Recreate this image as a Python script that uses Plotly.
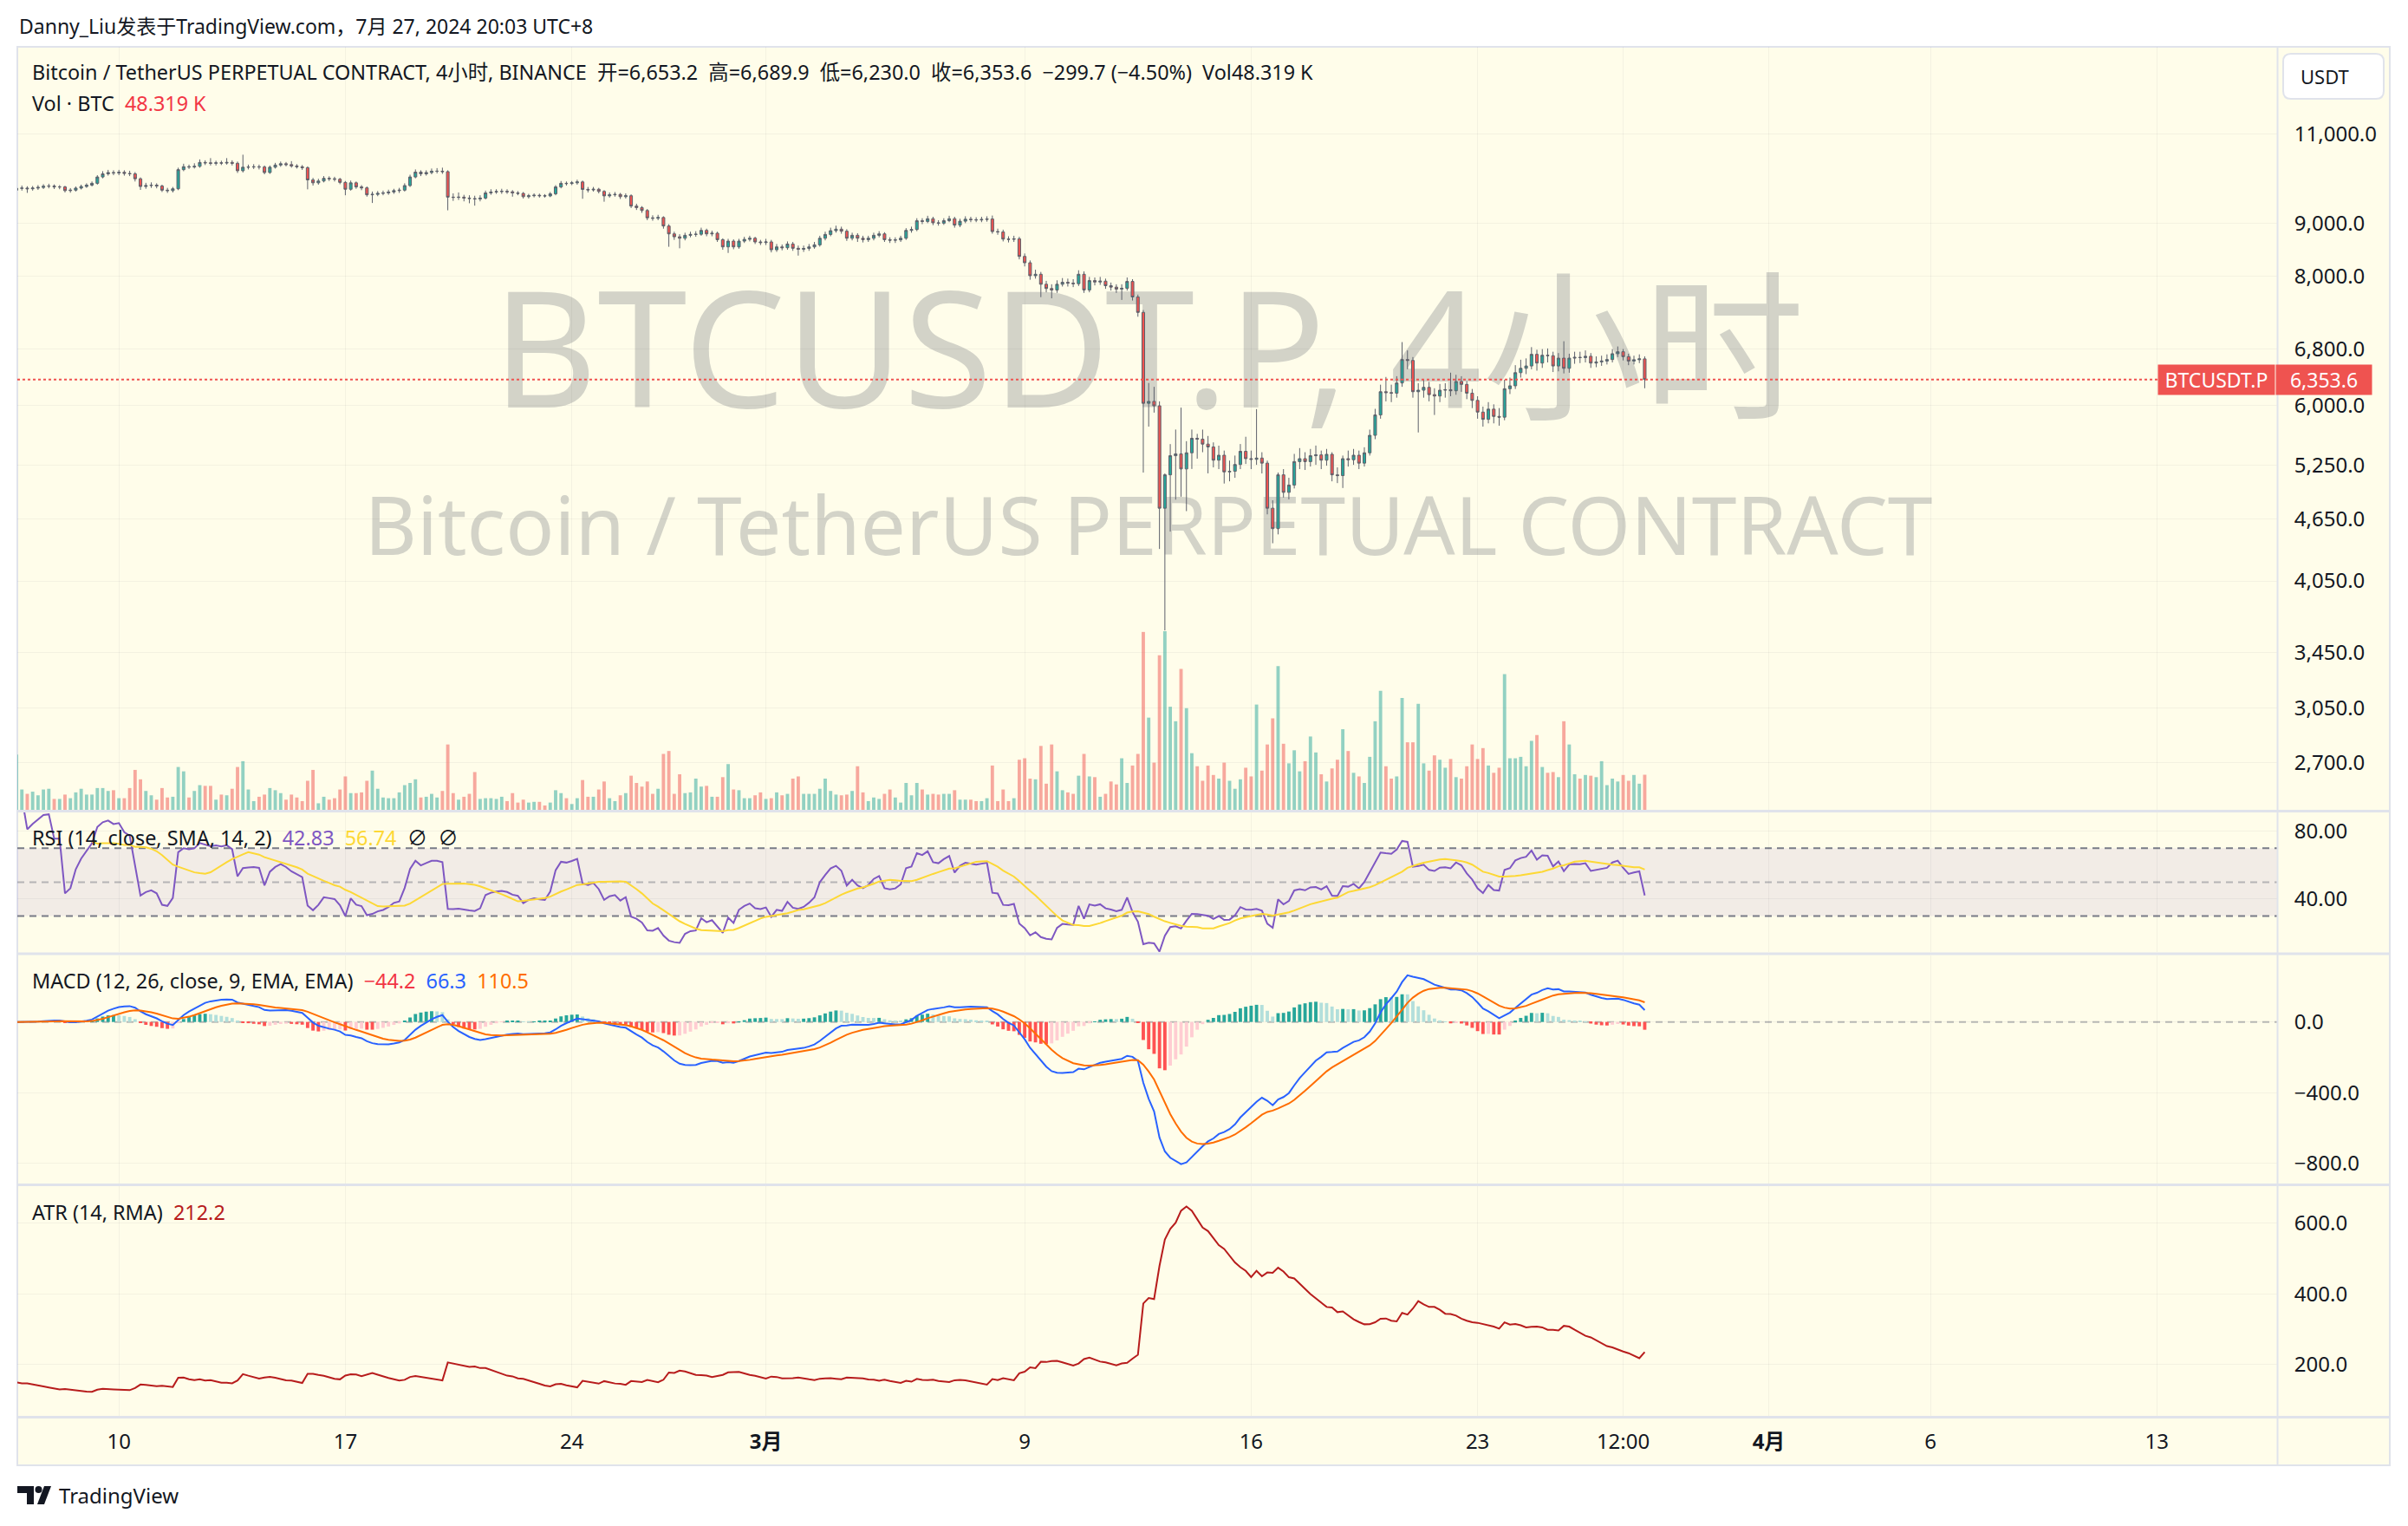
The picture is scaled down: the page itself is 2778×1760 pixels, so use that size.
import numpy as np
import pandas as pd
import plotly.graph_objects as go

# ---------------------------------------------------------------- data
start_time = "2020-02-06 20:00"          # first 4h candle (UTC+8)
first_open = 9700.0

closes = [
    9740,
    9745, 9730, 9745, 9760, 9785, 9790,          # Feb 7
    9770, 9770, 9690, 9700, 9745, 9780,          # Feb 8
    9810, 9850, 9990, 10060, 10090, 10080,       # Feb 9
    10095, 10070, 10060, 9950, 9780, 9800,       # Feb 10
    9810, 9790, 9700, 9690, 9730, 10155,         # Feb 11
    10223, 10215, 10230, 10320, 10310, 10300,    # Feb 12
    10310, 10305, 10320, 10300, 10130, 10210,    # Feb 13
    10215, 10220, 10215, 10090, 10210, 10260,    # Feb 14
    10290, 10270, 10240, 10220, 10200, 9925,     # Feb 15
    9860, 9900, 9960, 9950, 9940, 9870,          # Feb 16
    9720, 9860, 9770, 9750, 9600, 9610,          # Feb 17
    9630, 9640, 9660, 9690, 9700, 9800,          # Feb 18
    9990, 10100, 10060, 10090, 10120, 10120,     # Feb 19
    10110, 9550, 9545, 9550, 9530, 9520,         # Feb 20
    9510, 9530, 9640, 9660, 9670, 9675,          # Feb 21
    9665, 9640, 9630, 9560, 9580, 9590,          # Feb 22
    9580, 9575, 9620, 9770, 9850, 9845,          # Feb 23
    9860, 9880, 9717, 9705, 9720, 9673,          # Feb 24
    9577, 9600, 9608, 9560, 9580, 9361,          # Feb 25
    9330, 9269, 9118, 9110, 9125, 8953,          # Feb 26
    8797, 8740, 8712, 8769, 8786, 8790,          # Feb 27
    8866, 8797, 8810, 8684, 8545, 8656,          # Feb 28
    8545, 8656, 8690, 8712, 8640, 8628,          # Feb 29
    8640, 8490, 8545, 8529, 8600, 8518,          # Mar 1
    8500, 8515, 8545, 8584, 8712, 8786,          # Mar 2
    8860, 8890, 8850, 8712, 8769, 8712,          # Mar 3
    8684, 8712, 8769, 8797, 8684, 8673,          # Mar 4
    8680, 8712, 8866, 8884, 9059, 9045,          # Mar 5
    9100, 9018, 9010, 9060, 9100, 8971,          # Mar 6
    9050, 9090, 9080, 9075, 9085, 9095,          # Mar 7
    8843, 8835, 8695, 8690, 8700, 8365,          # Mar 8
    8247, 8012, 8038, 7860, 7786, 7760,          # Mar 9
    7860, 7895, 7880, 7870, 8038, 7761,          # Mar 10
    7925, 7900, 7915, 7835, 7810, 7776,          # Mar 11
    7790, 7910, 7640, 7381, 6024, 6050,          # Mar 12
    5990, 4765, 5134, 5358, 5380, 5202,          # Mar 13
    5393, 5571, 5560, 5499, 5464, 5305,          # Mar 14
    5364, 5168, 5175, 5254, 5411, 5323,          # Mar 15
    5315, 5330, 5270, 4765, 4552, 5134,          # Mar 16
    4937, 5018, 5288, 5323, 5288, 5358,          # Mar 17
    5368, 5305, 5375, 5134, 5125, 5323,          # Mar 18
    5310, 5364, 5270, 5393, 5608, 5869,          # Mar 19
    6182, 6170, 6162, 6304, 6643, 6630,          # Mar 20
    6182, 6203, 6243, 6142, 6123, 6203,          # Mar 21
    6210, 6195, 6325, 6284, 6162, 6063,          # Mar 22
    5907, 5812, 5946, 5850, 5840, 6223,          # Mar 23
    6264, 6451, 6514, 6548, 6721, 6591,          # Mar 24
    6707, 6700, 6548, 6664, 6514, 6664,          # Mar 25
    6675, 6672, 6692, 6591, 6608, 6621,          # Mar 26
    6643, 6730, 6760, 6686, 6621, 6640,          # Mar 27
    6653.2, 6353.6,                              # Mar 28
]

highs = [
    9800,
    9800, 9785, 9790, 9810, 9830, 9840,
    9825, 9810, 9795, 9745, 9780, 9820,
    9850, 9890, 10030, 10120, 10150, 10140,
    10150, 10140, 10130, 10100, 9980, 9860,
    9870, 9850, 9820, 9750, 9770, 10200,
    10290, 10270, 10300, 10390, 10370, 10420,
    10360, 10360, 10420, 10370, 10340, 10500,
    10270, 10280, 10270, 10250, 10250, 10310,
    10340, 10330, 10350, 10280, 10260, 10230,
    9970, 9950, 10010, 10005, 9995, 9970,
    9900, 9910, 9890, 9810, 9780, 9670,
    9680, 9690, 9710, 9730, 9750, 9850,
    10040, 10160, 10140, 10140, 10180, 10190,
    10200, 10140, 9630, 9650, 9600, 9590,
    9580, 9590, 9690, 9720, 9720, 9730,
    9720, 9700, 9680, 9660, 9620, 9630,
    9625, 9615, 9660, 9810, 9900, 9890,
    9900, 9930, 9910, 9770, 9770, 9750,
    9700, 9650, 9660, 9640, 9630, 9610,
    9410, 9360, 9300, 9170, 9180, 9150,
    8990, 8840, 8790, 8820, 8840, 8850,
    8920, 8900, 8860, 8840, 8710, 8700,
    8690, 8700, 8740, 8760, 8740, 8680,
    8700, 8680, 8600, 8590, 8650, 8640,
    8570, 8570, 8600, 8640, 8760, 8840,
    8920, 8960, 8940, 8890, 8820, 8810,
    8760, 8760, 8820, 8850, 8830, 8730,
    8730, 8760, 8910, 8940, 9110, 9110,
    9160, 9140, 9070, 9110, 9160, 9140,
    9100, 9150, 9140, 9130, 9140, 9150,
    9165, 8900, 8880, 8750, 8760, 8740,
    8420, 8290, 8120, 8080, 7920, 7860,
    7930, 7970, 7960, 7950, 8110, 8090,
    7990, 7980, 7990, 7960, 7890, 7860,
    7860, 7980, 7950, 7680, 7420, 6304,
    6250, 6050, 5150, 5499, 5681, 5966,
    5535, 5681, 5626, 5680, 5600, 5520,
    5480, 5420, 5300, 5360, 5500, 5590,
    5420, 5946, 5400, 5300, 4850, 5160,
    5200, 5100, 5380, 5450, 5400, 5440,
    5481, 5420, 5440, 5400, 5220, 5360,
    5420, 5440, 5420, 5460, 5680, 5950,
    6280, 6389, 6280, 6400, 6907, 6780,
    6680, 6300, 6350, 6320, 6230, 6290,
    6300, 6451, 6420, 6400, 6330, 6220,
    6120, 5980, 6040, 6010, 5960, 6350,
    6380, 6560, 6640, 6660, 6830, 6790,
    6800, 6810, 6760, 6740, 6920, 6730,
    6760, 6760, 6780, 6740, 6690, 6700,
    6720, 6800, 6840, 6800, 6730, 6700,
    6720, 6689.9,
]

lows = [
    9650,
    9690, 9641, 9690, 9705, 9725, 9740,
    9725, 9720, 9650, 9645, 9670, 9715,
    9750, 9780, 9820, 9960, 10020, 10030,
    10030, 10020, 10010, 9890, 9706, 9730,
    9750, 9740, 9660, 9640, 9650, 9700,
    10120, 10170, 10180, 10200, 10260, 10250,
    10250, 10260, 10270, 10250, 10080, 10090,
    10160, 10170, 10160, 10050, 10060, 10180,
    10220, 10230, 10200, 10180, 10150, 9718,
    9800, 9820, 9870, 9900, 9890, 9830,
    9590, 9690, 9730, 9700, 9560, 9426,
    9570, 9590, 9600, 9620, 9640, 9670,
    9770, 9960, 10010, 10020, 10050, 10070,
    10060, 9273, 9470, 9490, 9460, 9420,
    9370, 9460, 9500, 9600, 9620, 9620,
    9620, 9560, 9590, 9520, 9520, 9545,
    9540, 9540, 9550, 9590, 9740, 9800,
    9810, 9820, 9515, 9650, 9670, 9630,
    9453, 9540, 9560, 9510, 9520, 9320,
    9280, 9220, 9070, 9060, 9070, 8900,
    8547, 8680, 8518, 8670, 8730, 8740,
    8760, 8750, 8750, 8640, 8490, 8430,
    8500, 8510, 8620, 8650, 8600, 8580,
    8580, 8440, 8450, 8480, 8490, 8470,
    8380, 8450, 8470, 8510, 8550, 8670,
    8750, 8820, 8800, 8660, 8670, 8640,
    8630, 8640, 8670, 8730, 8640, 8620,
    8620, 8640, 8680, 8820, 8850, 8990,
    9010, 8970, 8960, 8975, 9030, 8920,
    8930, 9010, 9030, 9030, 9030, 9040,
    8800, 8780, 8650, 8630, 8640, 8310,
    8180, 7940, 7960, 7637, 7720, 7617,
    7710, 7820, 7820, 7810, 7830, 7710,
    7720, 7840, 7850, 7780, 7750, 7710,
    7590, 7750, 7580, 7310, 5160, 5718,
    5900, 4350, 3626, 4522, 4857, 4889,
    4734, 5202, 5323, 5400, 5151, 5220,
    5200, 5035, 5060, 5100, 5200, 5260,
    5200, 5250, 5150, 4700, 4406, 4494,
    4880, 4860, 4980, 5200, 5190, 5230,
    5250, 5200, 5240, 5060, 5040, 4985,
    5230, 5250, 5200, 5230, 5360, 5560,
    5820, 6050, 6040, 6100, 6250, 6500,
    6100, 5644, 6100, 6050, 5869, 6040,
    6100, 6120, 6140, 6180, 6080, 5960,
    5820, 5718, 5760, 5760, 5730, 5800,
    6150, 6220, 6380, 6430, 6500, 6480,
    6520, 6600, 6460, 6470, 6440, 6450,
    6580, 6590, 6600, 6520, 6530, 6550,
    6570, 6600, 6680, 6630, 6560, 6570,
    6590, 6230,
]

volumes_k = [
    76,
    28, 22, 25, 20, 28, 29, 15, 15, 21, 16,
    24, 29, 21, 21, 30, 30, 26, 27, 16, 16,
    30, 55, 42, 26, 20, 14, 30, 17, 18, 59,
    53, 17, 26, 34, 33, 33, 14, 21, 20, 29,
    59, 67, 28, 12, 18, 21, 30, 27, 23, 14,
    21, 17, 12, 40, 55, 9, 18, 14, 16, 28,
    46, 23, 23, 24, 40, 54, 29, 17, 16, 16,
    24, 34, 37, 42, 17, 18, 22, 17, 26, 90,
    23, 14, 18, 22, 52, 15, 16, 16, 15, 18,
    12, 23, 10, 14, 10, 11, 11, 6, 10, 27,
    23, 16, 8, 16, 41, 18, 18, 28, 39, 16,
    12, 20, 23, 47, 37, 32, 39, 22, 29, 77,
    81, 22, 49, 23, 24, 43, 32, 33, 18, 18,
    45, 63, 28, 27, 16, 16, 20, 24, 15, 16,
    24, 20, 22, 43, 46, 22, 22, 22, 29, 43,
    26, 21, 20, 21, 26, 60, 24,
    12, 17, 15, 22, 28, 17, 10, 37, 20, 37,
    28, 21, 22, 21, 22, 22, 27, 14, 14, 14,
    12, 12, 16, 61, 12, 28, 12, 16, 69, 71,
    43, 42, 88, 36, 90, 53, 27, 24, 22, 47,
    77, 46, 45, 18, 22, 39, 35, 71, 37, 61,
    77, 245, 127, 65, 213, 246, 142, 122, 194, 140,
    78, 60, 40, 61, 48, 43, 65, 40, 29, 42,
    58, 46, 145, 54, 90, 126, 198, 91, 64, 82,
    53, 67, 101, 79, 49, 39, 57, 69, 111, 81,
    51, 46, 37, 73, 122, 164, 60, 43, 46, 154,
    93, 93, 146, 64, 54, 75, 69, 58, 70, 45,
    43, 60, 90, 70, 85, 61, 51, 58, 187, 71,
    71, 73, 60, 95, 103, 59, 51, 52, 45, 122,
    90, 49, 43, 48, 47, 45, 67, 34, 43, 39,
    48, 40, 48, 36, 48.319,
]

price_ticks = [11000, 9000, 8000, 6800, 6000, 5250, 4650, 4050, 3450, 3050, 2700]
rsi_ticks = [80, 40]
macd_ticks = [0, -400, -800]
atr_ticks = [600, 400, 200]
rsi_levels = [70, 50, 30]
time_ticks = ["2020-02-10", "2020-02-17", "2020-02-24", "2020-03-01", "2020-03-09",
              "2020-03-16", "2020-03-23", "2020-03-27 12:00", "2020-04-01",
              "2020-04-06", "2020-04-13"]
time_labels = ["10", "17", "24", "<b>3月</b>", "9", "16", "23", "12:00", "<b>4月</b>", "6", "13"]

assert len(closes) == len(highs) == len(lows) == len(volumes_k) == 303

# ---------------------------------------------------------------- derived series
c = pd.Series(closes, dtype=float)
o = pd.Series([first_open] + closes[:-1], dtype=float)
h = pd.Series(highs, dtype=float)
l = pd.Series(lows, dtype=float)
t = pd.date_range(start_time, periods=len(c), freq="4h")
is_up = (c >= o).values

d = c.diff()
avg_gain = d.clip(lower=0).ewm(alpha=1 / 14, adjust=False).mean()
avg_loss = (-d).clip(lower=0).ewm(alpha=1 / 14, adjust=False).mean()
rsi = 100 - 100 / (1 + avg_gain / avg_loss)
rsi_ma = rsi.rolling(14).mean()

macd = c.ewm(span=12, adjust=False).mean() - c.ewm(span=26, adjust=False).mean()
signal = macd.ewm(span=9, adjust=False).mean()
hist = macd - signal
prev_hist = hist.shift(1)
hist_colors = []
for hv, pv in zip(hist, prev_hist):
    rising = (not np.isnan(pv)) and hv > pv
    if hv >= 0:
        hist_colors.append("#26a69a" if rising else "#b2dfdb")
    else:
        hist_colors.append("#ffcdd2" if rising else "#ff5252")

prev_c = c.shift(1)
tr = pd.concat([h - l, (h - prev_c).abs(), (l - prev_c).abs()], axis=1).max(axis=1)
atr = tr.ewm(alpha=1 / 14, adjust=False).mean()

# ---------------------------------------------------------------- geometry / style
W, H = 2778, 1760
L_PX, R_PX, T_PX, B_PX = 20, 2627, 54, 1634
PW, PH = R_PX - L_PX, B_PX - T_PX


def fx(px):
    return (px - L_PX) / PW


def fy(py):
    return (B_PX - py) / PH


def dom(top_px, bot_px):
    return [max(0.0, fy(bot_px)), min(1.0, fy(top_px))]


PRICE_DOM = dom(54, 934)
RSI_DOM = dom(937, 1098)
MACD_DOM = dom(1102, 1365)
ATR_DOM = dom(1368, 1634)

PRICE_RANGE = [3.3853, 4.1259]
VOL_RANGE = [0, 1051]
RSI_RANGE = [8.7, 91.2]
MACD_RANGE = [-914, 376]
ATR_RANGE = [52.6, 705]

t0 = pd.Timestamp(start_time)
PX_PER_DAY = 37.32
T0_PX = 19.0


def px_to_time(px):
    return t0 + pd.Timedelta(days=(px - T0_PX) / PX_PER_DAY)


x_left, x_right = px_to_time(L_PX), px_to_time(R_PX)


def price_to_fy(p):
    frac = (np.log10(p) - PRICE_RANGE[0]) / (PRICE_RANGE[1] - PRICE_RANGE[0])
    return PRICE_DOM[0] + frac * (PRICE_DOM[1] - PRICE_DOM[0])


FONT = "Noto Sans, Noto Sans CJK SC, sans-serif"
TXT = "#131722"
BG = "#fffdea"
GRID = "rgba(42,46,57,0.05)"
BORDER = "#e0e3eb"
WM = "#d3d3c8"
UP, DOWN = "#26a69a", "#ef5350"
NB = "\u00a0"
BAR_W = 4 * 3600 * 1000 * 0.62
LEG = 23.4

# ---------------------------------------------------------------- traces
fig = go.Figure()
vol_colors = ["rgba(38,166,154,0.5)" if u else "rgba(239,83,80,0.5)" for u in is_up]
fig.add_trace(go.Bar(x=t, y=volumes_k, marker=dict(color=vol_colors, line=dict(width=0)),
                     width=BAR_W, xaxis="x", yaxis="y", hoverinfo="skip"))
fig.add_trace(go.Candlestick(
    x=t, open=o, high=h, low=l, close=c, xaxis="x", yaxis="y5",
    increasing=dict(fillcolor=UP, line=dict(color="#5d606b", width=1)),
    decreasing=dict(fillcolor=DOWN, line=dict(color="#5d606b", width=1)),
    hoverinfo="skip"))
last_close = closes[-1]
fig.add_trace(go.Scatter(x=[x_left, px_to_time(2490)], y=[last_close, last_close],
                         mode="lines", line=dict(color=DOWN, width=2, dash="dot"),
                         xaxis="x", yaxis="y5", hoverinfo="skip"))

fig.add_trace(go.Scatter(x=t, y=rsi, mode="lines", line=dict(color="#7e57c2", width=2),
                         xaxis="x", yaxis="y2", hoverinfo="skip"))
fig.add_trace(go.Scatter(x=t, y=rsi_ma, mode="lines", line=dict(color="#fdd835", width=2),
                         xaxis="x", yaxis="y2", hoverinfo="skip"))

fig.add_trace(go.Bar(x=t, y=hist, marker=dict(color=hist_colors, line=dict(width=0)),
                     width=BAR_W, xaxis="x", yaxis="y3", hoverinfo="skip"))
fig.add_trace(go.Scatter(x=t, y=macd, mode="lines", line=dict(color="#2962ff", width=2),
                         xaxis="x", yaxis="y3", hoverinfo="skip"))
fig.add_trace(go.Scatter(x=t, y=signal, mode="lines", line=dict(color="#ff6d00", width=2),
                         xaxis="x", yaxis="y3", hoverinfo="skip"))

fig.add_trace(go.Scatter(x=t, y=atr, mode="lines", line=dict(color="#b71c1c", width=2),
                         xaxis="x", yaxis="y4", hoverinfo="skip"))

# ---------------------------------------------------------------- axes
tickfont = dict(family=FONT, size=24, color=TXT)
yax_common = dict(side="right", anchor="x", showline=False, zeroline=False,
                  ticks="outside", ticklen=14, tickcolor="rgba(0,0,0,0)",
                  tickfont=tickfont, showgrid=True, gridcolor=GRID, gridwidth=1,
                  fixedrange=True, tickmode="array")

fig.update_layout(
    xaxis=dict(type="date", range=[x_left, x_right], anchor="y4",
               tickmode="array", tickvals=time_ticks, ticktext=time_labels,
               showgrid=True, gridcolor=GRID, gridwidth=1,
               ticks="outside", ticklen=7, tickcolor="rgba(0,0,0,0)",
               tickfont=tickfont, showline=False, zeroline=False,
               rangeslider=dict(visible=False), fixedrange=True),
    yaxis=dict(domain=PRICE_DOM, range=VOL_RANGE, visible=False, fixedrange=True,
               showgrid=False, zeroline=False),
    yaxis5=dict(overlaying="y", type="log", range=PRICE_RANGE,
                tickvals=price_ticks, ticktext=[f"{v:,.1f}" for v in price_ticks],
                **yax_common),
    yaxis2=dict(domain=RSI_DOM, range=RSI_RANGE, tickvals=rsi_ticks,
                ticktext=[f"{v:.2f}" for v in rsi_ticks], **yax_common),
    yaxis3=dict(domain=MACD_DOM, range=MACD_RANGE, tickvals=macd_ticks,
                ticktext=[f"{v:.1f}".replace("-", "\u2212") for v in macd_ticks], **yax_common),
    yaxis4=dict(domain=ATR_DOM, range=ATR_RANGE, tickvals=atr_ticks,
                ticktext=[f"{v:.1f}" for v in atr_ticks], **yax_common),
)

# ---------------------------------------------------------------- shapes
shapes = []
shapes.append(dict(type="rect", xref="paper", yref="paper", x0=fx(20), x1=fx(2757),
                   y0=fy(1690), y1=fy(54), fillcolor=BG,
                   line=dict(color=BORDER, width=2), layer="below"))
# watermark
shapes.append(dict(type="rect", xref="paper", yref="paper", x0=fx(300), x1=fx(2350),
                   y0=fy(520), y1=fy(300), fillcolor="rgba(0,0,0,0)", line=dict(width=0),
                   layer="below",
                   label=dict(text="BTCUSDT.P, 4小时", textposition="middle center",
                              font=dict(family=FONT, size=186, color=WM))))
shapes.append(dict(type="rect", xref="paper", yref="paper", x0=fx(300), x1=fx(2350),
                   y0=fy(680), y1=fy(540), fillcolor="rgba(0,0,0,0)", line=dict(width=0),
                   layer="below",
                   label=dict(text="Bitcoin / TetherUS PERPETUAL CONTRACT",
                              textposition="middle center",
                              font=dict(family=FONT, size=93, color=WM))))
# RSI band and levels
shapes.append(dict(type="rect", xref="paper", yref="y2", x0=0, x1=1,
                   y0=rsi_levels[2], y1=rsi_levels[0],
                   fillcolor="rgba(126,87,194,0.1)", line=dict(width=0), layer="below"))
for lv in rsi_levels:
    col = "rgba(120,123,134,0.5)" if lv == 50 else "#787b86"
    shapes.append(dict(type="line", xref="paper", yref="y2", x0=0, x1=1, y0=lv, y1=lv,
                       line=dict(color=col, width=2, dash="8px,6px"), layer="below"))
# MACD zero line
shapes.append(dict(type="line", xref="paper", yref="y3", x0=0, x1=1, y0=0, y1=0,
                   line=dict(color="rgba(120,123,134,0.5)", width=2, dash="8px,6px"),
                   layer="below"))
# pane separators
for sy in [935.5, 1100, 1366.5, 1634.5]:
    shapes.append(dict(type="line", xref="paper", yref="paper", x0=fx(20), x1=fx(2757),
                       y0=fy(sy), y1=fy(sy), line=dict(color=BORDER, width=3)))
shapes.append(dict(type="line", xref="paper", yref="paper", x0=fx(2627.5), x1=fx(2627.5),
                   y0=fy(54), y1=fy(1690), line=dict(color=BORDER, width=2)))


def rounded_rect(x0, y0, x1, y1, r):
    pts = [("M", x0 + r, y0), ("L", x1 - r, y0), ("Q", x1, y0, x1, y0 + r),
           ("L", x1, y1 - r), ("Q", x1, y1, x1 - r, y1), ("L", x0 + r, y1),
           ("Q", x0, y1, x0, y1 - r), ("L", x0, y0 + r), ("Q", x0, y0, x0 + r, y0)]
    s = ""
    for p in pts:
        if p[0] == "Q":
            s += f"Q{fx(p[1]):.6f},{fy(p[2]):.6f} {fx(p[3]):.6f},{fy(p[4]):.6f} "
        else:
            s += f"{p[0]}{fx(p[1]):.6f},{fy(p[2]):.6f} "
    return s + "Z"


shapes.append(dict(type="path", xref="paper", yref="paper",
                   path=rounded_rect(2634, 62, 2750, 114, 9),
                   fillcolor="white", line=dict(color=BORDER, width=2)))


def poly(points):
    s = "M" + " L".join(f"{fx(px):.6f},{fy(py):.6f}" for px, py in points)
    return s + " Z"


# TradingView logo
shapes.append(dict(type="path", xref="paper", yref="paper",
                   path=poly([(20, 1714), (39, 1714), (39, 1735), (31, 1735), (31, 1722), (20, 1722)]),
                   fillcolor=TXT, line=dict(width=0)))
shapes.append(dict(type="circle", xref="paper", yref="paper", x0=fx(40.5), x1=fx(48.5),
                   y0=fy(1722), y1=fy(1714), fillcolor=TXT, line=dict(width=0)))
shapes.append(dict(type="path", xref="paper", yref="paper",
                   path=poly([(51, 1714), (59, 1714), (51, 1735), (43, 1735)]),
                   fillcolor=TXT, line=dict(width=0)))

# ---------------------------------------------------------------- annotations
anns = []


def text(px, py, s, size=LEG, color=TXT, xanchor="left", **kw):
    anns.append(dict(x=fx(px), y=fy(py), xref="paper", yref="paper", text=s,
                     showarrow=False, xanchor=xanchor, yanchor="middle",
                     font=dict(family=FONT, size=size, color=color), **kw))


def span(s, col):
    return f'<span style="color:{col}">{s}</span>'


text(20, 30, "Danny_Liu发表于TradingView.com，7月 27, 2024 20:03 UTC+8", size=23)
sep = NB * 2
legend1 = ("Bitcoin / TetherUS PERPETUAL CONTRACT, 4小时, BINANCE" + sep +
           "开=6,653.2" + sep + "高=6,689.9" + sep + "低=6,230.0" + sep + "收=6,353.6" + sep +
           "\u2212299.7 (\u22124.50%)" + sep + "Vol48.319" + NB + "K")
text(35, 83, legend1)
text(35, 119, "Vol · BTC" + sep + span("48.319" + NB + "K", "#f23645"))
text(35, 966, "RSI (14, close, SMA, 14, 2)" + sep + span("42.83", "#7e57c2") + sep +
     span("56.74", "#fdd835") + sep + "∅" + sep + "∅")
text(35, 1131, "MACD (12, 26, close, 9, EMA, EMA)" + sep + span("\u221244.2", "#f23645") + sep +
     span("66.3", "#2962ff") + sep + span("110.5", "#ff6d00"))
text(35, 1398, "ATR (14, RMA)" + sep + span("212.2", "#b71c1c"))
text(2652, 88, "USDT", size=22)
text(66, 1724, "TradingView", size=24)

tag_col = UP if is_up[-1] else DOWN
y_tag = price_to_fy(last_close)
for cx, label, wdt in [(2557, "BTCUSDT.P", 128), (2681, f"{last_close:,.1f}", 104)]:
    anns.append(dict(x=fx(cx), y=y_tag, xref="paper", yref="paper", text=label,
                     showarrow=False, xanchor="center", yanchor="middle",
                     font=dict(family=FONT, size=23, color="white"),
                     bgcolor=tag_col, borderpad=3, width=wdt, height=28, align="center"))

fig.update_layout(
    width=W, height=H, margin=dict(l=L_PX, r=W - R_PX, t=T_PX, b=H - B_PX),
    paper_bgcolor="white", plot_bgcolor=BG, showlegend=False, barmode="overlay",
    hovermode=False, shapes=shapes, annotations=anns, font=dict(family=FONT, color=TXT),
)

fig.write_html("out.html", include_plotlyjs=True, config={"displayModeBar": False},
               post_script="document.body.style.margin='0';document.body.style.overflow='hidden';")
